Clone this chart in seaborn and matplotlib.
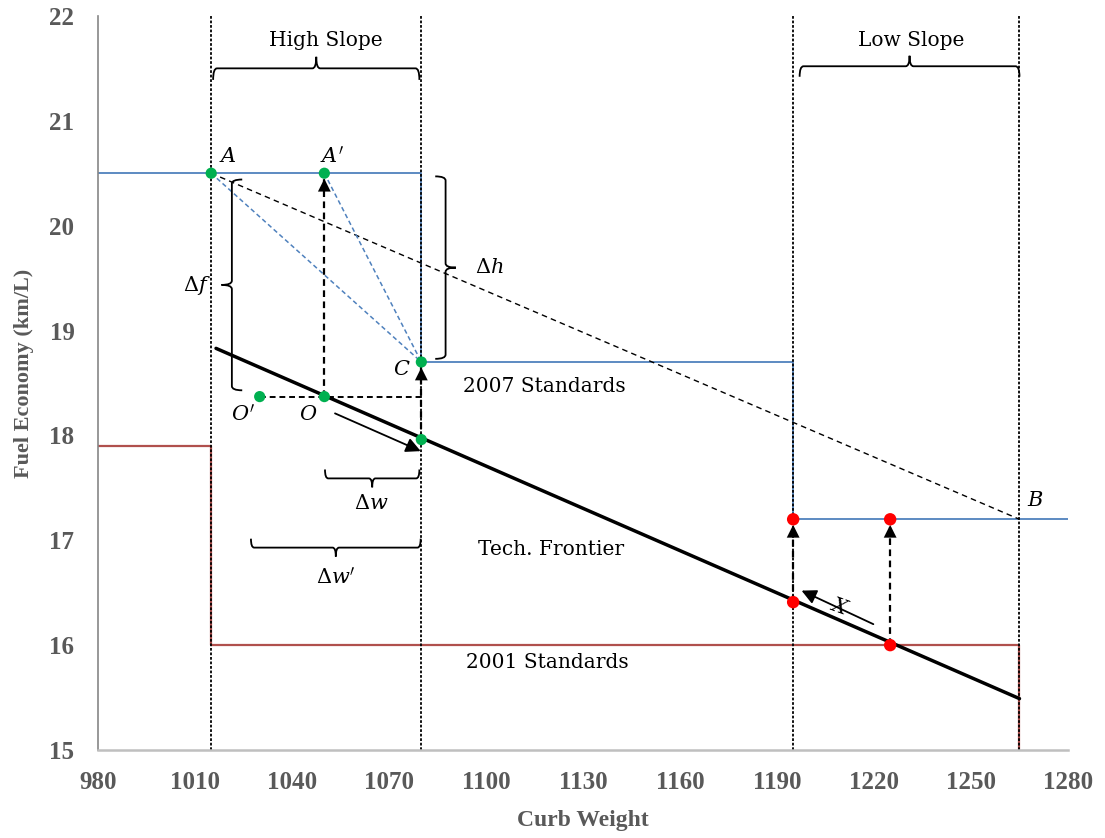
import numpy as np
import pandas as pd
import matplotlib
matplotlib.use("Agg")
import matplotlib.pyplot as plt
import seaborn as sns
from matplotlib.path import Path
from matplotlib.patches import PathPatch

# ---------------- data ----------------
segment_bounds = [1015, 1080, 1195, 1265]          # vertical dotted class limits

std2007_x = [980, 1080, 1080, 1195, 1195, 1280]
std2007_y = [20.5, 20.5, 18.7, 18.7, 17.2, 17.2]

std2001_x = [980, 1015, 1015, 1265, 1265]
std2001_y = [17.9, 17.9, 16.0, 16.0, 15.0]

frontier_x = [1016.5, 1265]
frontier_y = [18.83, 15.49]

green_names = ["A", "A'", "C", "O", "O'", "F"]
green_x = [1015, 1050, 1080, 1050, 1030, 1080]
green_y = [20.5, 20.5, 18.7, 18.37, 18.37, 17.96]

red_x = [1195, 1195, 1225, 1225]
red_y = [17.2, 16.41, 17.2, 16.0]

point_B = (1265, 17.2)

x_ticks = [980, 1010, 1040, 1070, 1100, 1130, 1160, 1190, 1220, 1250, 1280]
y_ticks = [15, 16, 17, 18, 19, 20, 21, 22]

# ---------------- style ----------------
sns.set_theme(style="white")
plt.rcParams["font.family"] = ["DejaVu Serif"]
plt.rcParams["mathtext.fontset"] = "dejavuserif"
plt.rcParams["text.color"] = "black"

BLUE = "#4F81BD"
DRED = "#B0504D"
GREEN = "#00B050"
RED = "#FF0000"
GRAY = "#595959"
AXFONT = "Liberation Serif"

fig = plt.figure(figsize=(11.05, 8.38), dpi=100)
ax = fig.add_axes([0.0887, 0.105, 0.8778, 0.876])

P = dict(zip(green_names, zip(green_x, green_y)))

# standards (step lines)
sns.lineplot(x=std2007_x, y=std2007_y, sort=False, estimator=None, color=BLUE, lw=1.3,
             ax=ax, zorder=1)
sns.lineplot(x=std2001_x, y=std2001_y, sort=False, estimator=None, color=DRED, lw=1.6,
             ax=ax, zorder=1)

# vertical dotted limits
for xb in segment_bounds:
    ax.plot([xb, xb], [15, 22], color="black", lw=1.3, ls=(0, (1.5, 1)), zorder=2)

# dashed A-B line
ax.plot([P["A"][0], point_B[0]], [P["A"][1], point_B[1]], color="black", lw=1.0,
        ls=(0, (4, 3)), zorder=2)
# blue dashed A-C, A'-C
for k in ["A", "A'"]:
    ax.plot([P[k][0], P["C"][0]], [P[k][1], P["C"][1]], color=BLUE, lw=1.1,
            ls=(0, (3, 2)), zorder=2)

# frontier
sns.lineplot(x=frontier_x, y=frontier_y, estimator=None, color="black", lw=2.5, ax=ax, zorder=3)

# dashed arrows
def dashed_arrow(x0, y0, x1, y1):
    ax.plot([x0, x1], [y0, y1], color="black", lw=1.6, ls=(0, (3, 2)), zorder=4)
    ax.annotate("", xy=(x1, y1), xytext=(x1 + (x0 - x1) * 0.2, y1 + (y0 - y1) * 0.2),
                arrowprops=dict(arrowstyle="-|>", color="black", lw=0.01,
                                mutation_scale=23, shrinkA=0, shrinkB=4),
                zorder=4)

dashed_arrow(P["O"][0], P["O"][1], P["A'"][0], P["A'"][1])
dashed_arrow(P["F"][0], P["F"][1], P["C"][0], P["C"][1])
dashed_arrow(red_x[1], red_y[1], red_x[0], red_y[0])
dashed_arrow(red_x[3], red_y[3], red_x[2], red_y[2])

# horizontal dashed O' -> x=1080
ax.plot([P["O'"][0], P["C"][0]], [P["O"][1], P["O"][1]], color="black", lw=1.4,
        ls=(0, (3, 2)), zorder=2)

# solid arrows
ax.annotate("", xy=(1079.8, 17.85), xytext=(1053.3, 18.21),
            arrowprops=dict(arrowstyle="-|>", color="black", lw=1.3,
                            mutation_scale=22, shrinkA=0, shrinkB=0), zorder=4)
ax.annotate("", xy=(1197.6, 16.52), xytext=(1219.8, 16.2),
            arrowprops=dict(arrowstyle="-|>", color="black", lw=1.3,
                            mutation_scale=22, shrinkA=0, shrinkB=0), zorder=4)

# points
sns.scatterplot(x=green_x, y=green_y, color=GREEN, s=65, edgecolor="none", ax=ax, zorder=6)
sns.scatterplot(x=red_x, y=red_y, color=RED, s=80, edgecolor="none", ax=ax, zorder=6)

# ---------------- braces ----------------
C3 = Path.CURVE3
def brace_h(x1, x2, y, h, dx, up=True):
    s = 1 if up else -1
    xm = (x1 + x2) / 2
    verts = [(x1, y - s * h), (x1, y), (x1 + dx, y), (xm - dx, y), (xm, y), (xm, y + s * h),
             (xm, y), (xm + dx, y), (x2 - dx, y), (x2, y), (x2, y - s * h)]
    codes = [Path.MOVETO, C3, C3, Path.LINETO, C3, C3, C3, C3, Path.LINETO, C3, C3]
    ax.add_patch(PathPatch(Path(verts, codes), fc="none", ec="black", lw=1.3, zorder=4))

def brace_v(y1, y2, x, w, dy, left=True):
    s = -1 if left else 1
    ym = (y1 + y2) / 2
    verts = [(x - s * w, y1), (x, y1), (x, y1 - dy), (x, ym + dy), (x, ym), (x + s * w, ym),
             (x, ym), (x, ym - dy), (x, y2 + dy), (x, y2), (x - s * w, y2)]
    codes = [Path.MOVETO, C3, C3, Path.LINETO, C3, C3, C3, C3, Path.LINETO, C3, C3]
    ax.add_patch(PathPatch(Path(verts, codes), fc="none", ec="black", lw=1.3, zorder=4))

brace_h(segment_bounds[0] + 0.6, segment_bounds[1] - 0.6, 21.5, 0.11, 1.2, up=True)
brace_h(segment_bounds[2] + 2.0, segment_bounds[3], 21.52, 0.1, 1.2, up=True)
brace_h(1050.2, 1079.4, 17.59, 0.085, 1.0, up=False)
brace_h(1027.3, 1079.8, 16.93, 0.085, 1.0, up=False)
brace_v(20.44, 18.43, 1021.4, 3.2, 0.04, left=True)
brace_v(20.47, 18.73, 1087.5, 3.2, 0.04, left=False)

# ---------------- texts ----------------
fs = 14.5
ax.text(1050.5, 21.77, "High Slope", ha="center", va="center", fontsize=fs)
ax.text(1231.5, 21.77, "Low Slope", ha="center", va="center", fontsize=fs)
ax.text(1118, 18.47, "2007 Standards", ha="center", va="center", fontsize=fs)
ax.text(1120, 16.91, "Tech. Frontier", ha="center", va="center", fontsize=fs)
ax.text(1119, 15.83, "2001 Standards", ha="center", va="center", fontsize=fs)

ms = 15
ax.text(1017.3, 20.66, r"$A$", ha="left", va="center", fontsize=ms)
ax.text(1052.3, 20.66, r"$A'$", ha="center", va="center", fontsize=ms)
ax.text(1073.9, 18.63, r"$C$", ha="center", va="center", fontsize=ms)
ax.text(1024.9, 18.2, r"$O'$", ha="center", va="center", fontsize=ms)
ax.text(1045.0, 18.2, r"$O$", ha="center", va="center", fontsize=ms)
ax.text(1269.8, 17.38, r"$B$", ha="center", va="center", fontsize=ms)
ax.text(1010.6, 19.43, r"$\Delta f$", ha="center", va="center", fontsize=ms)
ax.text(1101.0, 19.6, r"$\Delta h$", ha="center", va="center", fontsize=ms)
ax.text(1064.6, 17.35, r"$\Delta w$", ha="center", va="center", fontsize=ms)
ax.text(1053.6, 16.64, r"$\Delta w'$", ha="center", va="center", fontsize=ms)
ax.text(1209.4, 16.36, r"$X$", ha="center", va="center", fontsize=ms, rotation=-20)

# ---------------- axes ----------------
ax.set_xlim(980, 1280)
ax.set_ylim(15, 22)
ax.set_xticks(x_ticks)
ax.set_yticks(y_ticks)
ax.tick_params(length=0, labelsize=18, labelcolor=GRAY)
ax.tick_params(axis="x", pad=15)
ax.tick_params(axis="y", pad=17)
for lab in ax.get_xticklabels() + ax.get_yticklabels():
    lab.set_fontweight("bold")
    lab.set_family(AXFONT)
for s in ["top", "right"]:
    ax.spines[s].set_visible(False)
ax.spines["left"].set_color("#868686")
ax.spines["left"].set_linewidth(1.2)
ax.spines["bottom"].set_color("#BFBFBF")
ax.spines["bottom"].set_linewidth(1.8)
ax.set_xlabel("Curb Weight", fontsize=17, fontweight="bold", color=GRAY, family=AXFONT)
ax.set_ylabel("Fuel Economy (km/L)", fontsize=16, fontweight="bold", color=GRAY,
              family=AXFONT)
ax.xaxis.set_label_coords(0.5, -0.096)
ax.yaxis.set_label_coords(-0.076, 0.513)
ax.xaxis.label.set_va("center")
ax.yaxis.label.set_va("center")
ax.grid(False)

fig.savefig("out.png", dpi=100)
